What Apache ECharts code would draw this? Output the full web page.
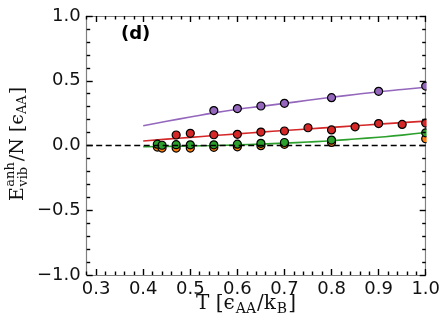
<!DOCTYPE html>
<html>
<head>
<meta charset="utf-8">
<script src="https://cdn.jsdelivr.net/npm/echarts@6/dist/echarts.min.js"></script>
<style>
  html, body { margin: 0; padding: 0; background: #fff; }
  #chart { width: 448px; height: 328px; }
</style>
</head>
<body>
<div id="chart"></div>
<script>
// tick labels
const xTicks = [0.3, 0.4, 0.5, 0.6, 0.7, 0.8, 0.9, 1.0];

// simulation points
const tPurple = [0.55, 0.6, 0.65, 0.7, 0.8, 0.9, 1.0];
const ePurple = [0.27, 0.285, 0.305, 0.326, 0.369, 0.418, 0.459];

const tRed = [0.47, 0.5, 0.55, 0.6, 0.65, 0.7, 0.75, 0.8, 0.85, 0.9, 0.95, 1.0];
const eRed = [0.081, 0.094, 0.083, 0.086, 0.104, 0.112, 0.137, 0.12, 0.144, 0.169, 0.163, 0.173];

const tLow = [0.43, 0.44, 0.47, 0.5, 0.55, 0.6, 0.65, 0.7, 0.8, 1.0];
const eGreen = [0.01, 0.002, 0.006, 0.005, 0.005, 0.01, 0.017, 0.023, 0.042, 0.098];
const eOrange = [-0.012, -0.02, -0.02, -0.02, -0.014, -0.01, -0.001, 0.009, 0.024, 0.052];

// fitted curves
const tFit = [0.4, 0.45, 0.5, 0.55, 0.6, 0.65, 0.7, 0.75, 0.8, 0.85, 0.9, 0.95, 1.0];
const purpleFit = [0.153, 0.187, 0.22, 0.252, 0.279, 0.302, 0.325, 0.349, 0.372, 0.394, 0.415, 0.433, 0.45];
const redFit = [0.035, 0.049, 0.063, 0.077, 0.09, 0.103, 0.116, 0.128, 0.14, 0.152, 0.165, 0.177, 0.188];
const greenFit = [-0.01, -0.007, -0.004, 0.0, 0.005, 0.011, 0.018, 0.027, 0.037, 0.05, 0.064, 0.08, 0.1];

const X_MIN = 0.28, X_MAX = 1.0, Y_MIN = -1, Y_MAX = 1;

const C_PURPLE = '#9467bd', C_RED = '#d62728', C_GREEN = '#2ca02c', C_ORANGE = '#ff7f0e';
const AXIS_GREY = '#808080', TICK = '#000';

// plot box
const G_LEFT = 86.7, G_RIGHT = 22.3, G_TOP = 16, G_BOTTOM = 53;
const G_W = 448 - G_LEFT - G_RIGHT, G_H = 328 - G_TOP - G_BOTTOM;

function pairs(xs, ys) {
    let out = [];
    for (let i = 0; i < xs.length; i++) out.push([xs[i], ys[i]]);
    return out;
}

function fitLine(ys, color) {
    return {
        type: 'line', data: pairs(tFit, ys), smooth: true, showSymbol: false,
        lineStyle: { color: color, width: 1.6 }, z: 2, silent: true
    };
}

function points(xs, ys, color) {
    return {
        type: 'scatter', data: pairs(xs, ys), symbolSize: 8, z: 4,
        itemStyle: { color: color, borderColor: '#000', borderWidth: 1.2, opacity: 1 }
    };
}

// inward ticks on all four sides, as short mark lines placed through the axes
const xStep = (X_MAX - X_MIN) / G_W, yStep = (Y_MAX - Y_MIN) / G_H;   // data units per pixel
const tickStyle = { type: 'solid', color: TICK, width: 1.4 };
let tickLines = [];
for (let k = 14; k <= 50; k++) {
    const v = +(k * 0.02).toFixed(2);
    const len = (k % 5 === 0 ? 6 : 3.5) * yStep;
    tickLines.push([{ coord: [v, Y_MIN], lineStyle: tickStyle }, { coord: [v, Y_MIN + len] }]);
    tickLines.push([{ coord: [v, Y_MAX], lineStyle: tickStyle }, { coord: [v, Y_MAX - len] }]);
}
for (let k = -10; k <= 10; k++) {
    const v = +(k * 0.1).toFixed(1);
    const len = (k % 5 === 0 ? 6 : 3.5) * xStep;
    tickLines.push([{ coord: [X_MIN, v], lineStyle: tickStyle }, { coord: [X_MIN + len, v] }]);
    tickLines.push([{ coord: [X_MAX, v], lineStyle: tickStyle }, { coord: [X_MAX - len, v] }]);
}

const frameLine = { show: true, onZero: false, lineStyle: { color: AXIS_GREY, width: 1.2 } };

const xMain = {
    type: 'value', position: 'bottom', min: X_MIN, max: X_MAX,
    axisLine: frameLine,
    splitLine: { show: false },
    axisTick: { show: false },
    axisLabel: {
        show: true, customValues: xTicks, margin: 5,
        fontFamily: 'DejaVu Sans', fontSize: 18, color: '#111',
        formatter: v => v.toFixed(1)
    }
};
const xTop = {
    type: 'value', position: 'top', min: X_MIN, max: X_MAX,
    axisLine: frameLine, splitLine: { show: false }, axisTick: { show: false }, axisLabel: { show: false }
};

const yMain = {
    type: 'value', position: 'left', min: Y_MIN, max: Y_MAX, interval: 0.5,
    axisLine: frameLine,
    splitLine: { show: false },
    axisTick: { show: false },
    axisLabel: {
        show: true, margin: 6, fontFamily: 'DejaVu Sans', fontSize: 18, color: '#111',
        formatter: v => (v < 0 ? '\u2212' : '') + Math.abs(v).toFixed(1)
    }
};
const yRight = {
    type: 'value', position: 'right', min: Y_MIN, max: Y_MAX, interval: 0.5,
    axisLine: frameLine, splitLine: { show: false }, axisTick: { show: false }, axisLabel: { show: false }
};

// y title built from pieces so that the super/subscript can stack
const measureCtx = document.createElement('canvas').getContext('2d');
function textWidth(t, font) {
    measureCtx.font = font;
    return measureCtx.measureText(t).width;
}
const BIG = 19, SMALL = 13, SERIF = '"DejaVu Serif"';
function yTitle() {
    const bigF = BIG + 'px ' + SERIF, smallF = SMALL + 'px ' + SERIF;
    let parts = [];
    let x = 0;
    parts.push({ t: 'E', x: x, dy: 0, s: BIG });
    x += textWidth('E', bigF) + 0.5;
    parts.push({ t: 'anh', x: x, dy: -7, s: SMALL });
    parts.push({ t: 'vib', x: x, dy: 6, s: SMALL });
    x += Math.max(textWidth('anh', smallF), textWidth('vib', smallF)) + 1;
    parts.push({ t: '/N [', x: x, dy: 0, s: BIG });
    x += textWidth('/N [', bigF);
    parts.push({ t: 'ϵ', x: x, dy: 0, s: BIG });
    x += textWidth('ϵ', bigF);
    parts.push({ t: 'AA', x: x, dy: 5, s: SMALL });
    x += textWidth('AA', smallF) + 1;
    parts.push({ t: ']', x: x, dy: 0, s: BIG });
    x += textWidth(']', bigF);
    const w = x;
    return {
        type: 'group', x: 18, y: 144, rotation: Math.PI / 2, silent: true,
        children: parts.map(p => ({
            type: 'text',
            style: {
                text: p.t, x: p.x - w / 2, y: p.dy, fill: '#111',
                font: p.s + 'px ' + SERIF, verticalAlign: 'middle', align: 'left'
            }
        }))
    };
}

let series = [
    fitLine(purpleFit, C_PURPLE),
    fitLine(redFit, C_RED),
    fitLine(greenFit, C_GREEN),
    points(tLow, eOrange, C_ORANGE),
    points(tLow, eGreen, C_GREEN),
    points(tRed, eRed, C_RED),
    points(tPurple, ePurple, C_PURPLE)
];
// dashed zero line
series[0].markLine = {
    silent: true, symbol: 'none', animation: false,
    label: { show: false },
    lineStyle: { color: '#000', type: [6, 3.5], width: 1.4 },
    data: [{ yAxis: 0 }]
};
// frame ticks
series[1].markLine = {
    silent: true, symbol: 'none', animation: false,
    label: { show: false },
    lineStyle: tickStyle,
    data: tickLines
};

const chart = echarts.init(document.getElementById('chart'), null, { renderer: 'canvas' });
chart.setOption({
    animation: false,
    backgroundColor: '#fff',
    grid: { left: G_LEFT, right: G_RIGHT, top: G_TOP, bottom: G_BOTTOM, outerBoundsMode: 'none', containLabel: false },
    xAxis: [xMain, xTop],
    yAxis: [yMain, yRight],
    series: series,
    graphic: [
        yTitle(),
        {
            type: 'text', x: 246, y: 304, silent: true,
            style: {
                text: 'T [ϵ{s|AA}/k{s|B}]', align: 'center', verticalAlign: 'middle',
                font: '20px "DejaVu Serif"', fill: '#111', lineHeight: 24,
                rich: { s: { fontFamily: 'DejaVu Serif', fontSize: 14, lineHeight: 14, verticalAlign: 'bottom', fill: '#111', padding: [0, 1, 0, 1] } }
            }
        },
        {
            type: 'text', left: 121, top: 25, silent: true,
            style: { text: '(d)', font: 'bold 18px "DejaVu Sans"', fill: '#000' }
        },
        // hide marker halves that fall outside the right frame
        {
            type: 'rect', shape: { x: 426.6, y: 0, width: 30, height: 272 }, z: 100, silent: true,
            style: { fill: '#fff' }
        }
    ]
});
</script>
</body>
</html>
